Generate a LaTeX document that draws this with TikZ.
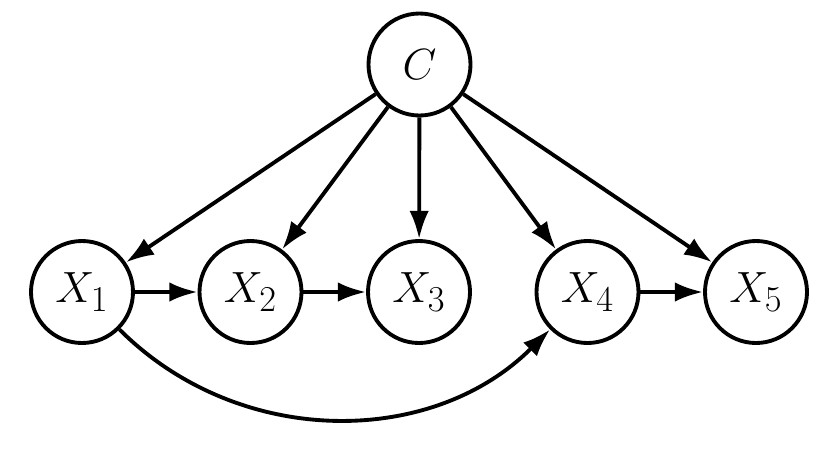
\documentclass[tikz,border=0pt]{standalone}
\usepackage{amsmath}
\usepackage{tikz}
\usetikzlibrary{arrows.meta,positioning,calc}

\begin{document}
\begin{tikzpicture}[
        var/.style={circle, draw=black, line width=2.2pt, minimum size=2.04cm, inner sep=0pt, font=\fontsize{24.88}{30}\selectfont},
        arrow/.style={-{Latex[length=16pt,width=11pt]}, line width=2.2pt}]

        \useasboundingbox (0,0) rectangle (16.48,-9);

        \node[var] (C) at (8.39,-1.29) {$C$};
        \node[var] (X1) at (1.64,-5.84) {$X_1$};
        \node[var] (X2) at (5.01,-5.84) {$X_2$};
        \node[var] (X3) at (8.38,-5.84) {$X_3$};
        \node[var] (X4) at (11.75,-5.84) {$X_4$};
        \node[var] (X5) at (15.12,-5.84) {$X_5$};

        \draw[arrow] (C) -- (X1);
        \draw[arrow] (C) -- (X2);
        \draw[arrow] (C) -- (X3);
        \draw[arrow] (C) -- (X4);
        \draw[arrow] (C) -- (X5);
        \draw[arrow] (X1) -- (X2);
        \draw[arrow] (X2) -- (X3);
        \draw[arrow] (X4) -- (X5);
        \draw[arrow] (X1) to[out=-45, in=-135] (X4);

    \end{tikzpicture}
\end{document}
